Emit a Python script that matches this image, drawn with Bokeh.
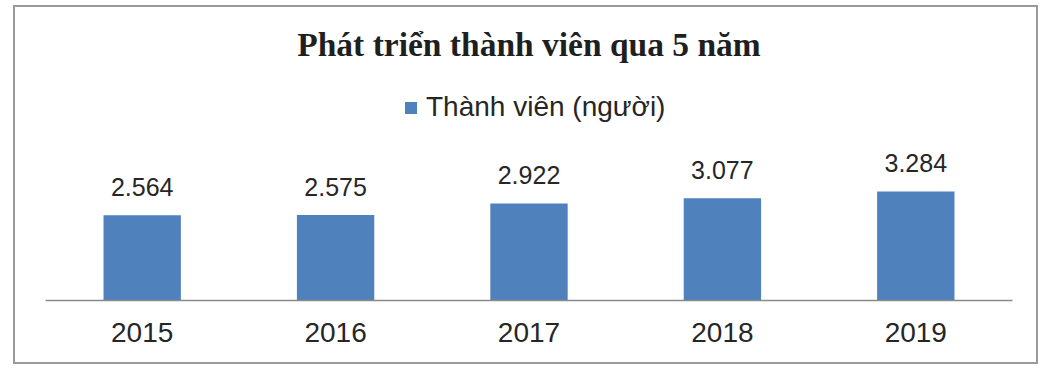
from bokeh.plotting import figure
from bokeh.models import ColumnDataSource, LabelSet, Range1d, Legend
from bokeh.core.properties import value
from bokeh.embed import file_html
from bokeh.resources import INLINE

years = ["2015", "2016", "2017", "2018", "2019"]
members = [2564, 2575, 2922, 3077, 3284]
value_labels = [f"{v:,}".replace(",", ".") for v in members]
series_name = "Thành viên (người)"
title_text = "Phát triển thành viên qua 5 năm"

source = ColumnDataSource(data=dict(year=years, members=members, label=value_labels))

p = figure(
    x_range=years,
    y_range=Range1d(0, 7018),
    width=1025,
    height=359,
    output_backend="svg",
    toolbar_location=None,
    min_border_left=30,
    min_border_right=28,
    min_border_bottom=66,
    min_border_top=60,
    title=title_text,
)
p.styles = {"border": "2px solid #9a9a9a", "margin-left": "13px", "margin-top": "5px"}
p.background_fill_color = "white"
p.border_fill_color = "white"
p.outline_line_color = None

p.title.text_font = "Liberation Serif"
p.title.text_font_style = "bold"
p.title.text_font_size = "33.5px"
p.title.text_color = "#1f1f1f"
p.title.align = "center"
p.title.offset = 8

r = p.vbar(x="year", top="members", width=0.4, source=source,
           fill_color="#4F81BD", line_color=None)

legend = Legend(items=[(series_name, [r])], location=(358, 177),
                orientation="horizontal")
legend.label_text_font = "Liberation Sans"
legend.label_text_font_size = "28px"
legend.label_text_color = "#262626"
legend.glyph_width = 15
legend.glyph_height = 15
legend.label_standoff = 8
legend.border_line_color = None
legend.background_fill_alpha = 0
legend.margin = 0
legend.padding = 6
p.add_layout(legend)

labels = LabelSet(x="year", y="members", text="label", source=source,
                  text_align="center", text_baseline="alphabetic",
                  y_offset=19, text_font=value("Liberation Sans"),
                  text_font_size="25px", text_color="#262626")
p.add_layout(labels)

p.yaxis.visible = False
p.xgrid.grid_line_color = None
p.ygrid.grid_line_color = None
p.xaxis.axis_line_color = "#8a8a8a"
p.xaxis.axis_line_width = 1.5
p.xaxis.major_tick_line_color = None
p.xaxis.minor_tick_line_color = None
p.xaxis.major_label_text_font = "Liberation Sans"
p.xaxis.major_label_text_font_size = "28px"
p.xaxis.major_label_text_color = "#262626"
p.xaxis.major_label_standoff = 16

open("out.html", "w").write(file_html(p, INLINE))
